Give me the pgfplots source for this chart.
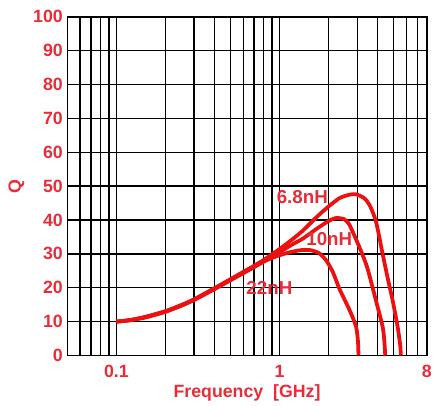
\documentclass[border=0pt]{standalone}
\usepackage{fontspec}
\setmainfont{Liberation Sans}
\usepackage{pgfplots}
\pgfplotsset{compat=1.18}

\definecolor{txtred}{RGB}{232,44,56}
\definecolor{curvered}{RGB}{236,16,16}

\begin{document}
\begin{tikzpicture}
\begin{axis}[
  scale only axis, width=363bp, height=342bp,
  xmode=log, xmin=0.05, xmax=8,
  ymin=0, ymax=100,
  xtick={0.1,1,8}, xticklabels={0.1,1,8},
  minor xtick={0.05,0.06,0.07,0.08,0.09,0.2,0.3,0.4,0.5,0.6,0.7,0.8,0.9,2,3,4,5,6,7},
  ytick={0,10,...,100},
  /pgf/number format/assume math mode=true,
  xmajorgrids, xminorgrids, ymajorgrids,
  grid style={black, line width=1.5bp},
  minor grid style={black, line width=1.5bp},
  axis line style={black, line width=1.5bp},
  major tick length=0pt, minor tick length=0pt,
  ticklabel style={font=\fontsize{18}{20}\selectfont\bfseries, text=txtred},
  xticklabel style={yshift=-6bp},
  yticklabel style={xshift=-1bp},
  xlabel={Frequency\ \ [GHz]},
  ylabel={Q},
  label style={font=\fontsize{18}{20}\selectfont\bfseries, text=txtred},
  xlabel style={yshift=0bp},
  ylabel style={yshift=2bp},
  clip=false,
]
% 6.8nH
\addplot[curvered, line width=3.8bp, smooth, tension=0.4] coordinates {(0.1,10)(0.12,10.4)(0.15,11.4)(0.2,13.1)(0.25,14.9)(0.3,16.6)(0.4,19.9)(0.5,22.5)(0.6,24.7)(0.7,26.5)(0.8,28.2)(0.9,29.9)(1,31.4)(1.2,34.3)(1.4,37)(1.7,41)(2,44)(2.34,46.5)(2.7,47.5)(2.95,47.6)(3.3,46.5)(3.56,44.5)(3.9,39.7)(4.29,30)(4.6,23)(4.94,16.3)(5.3,8.5)(5.5,3)(5.55,0)};
% 10nH
\addplot[curvered, line width=3.8bp, smooth, tension=0.4] coordinates {(0.1,10)(0.12,10.4)(0.15,11.3)(0.2,13)(0.25,14.8)(0.3,16.5)(0.4,19.8)(0.5,22.4)(0.6,24.5)(0.7,26.3)(0.8,28)(0.9,29.3)(1,30.5)(1.2,32.8)(1.4,34.6)(1.7,37.5)(2,39.7)(2.23,40.6)(2.5,40.2)(2.69,38.5)(3.09,32)(3.45,26)(3.9,16.3)(4.29,8.5)(4.4,4)(4.45,0)};
% 22nH
\addplot[curvered, line width=3.8bp, smooth, tension=0.4] coordinates {(0.1,10)(0.12,10.4)(0.15,11.2)(0.2,12.9)(0.25,14.7)(0.3,16.4)(0.4,19.6)(0.5,22.2)(0.6,24.3)(0.7,26.1)(0.8,27.7)(0.9,28.8)(1,29.6)(1.16,30.5)(1.35,31.1)(1.55,31.1)(1.75,30.2)(1.94,28)(2.13,24.5)(2.34,19.5)(2.69,13.4)(2.95,8.5)(3.03,4)(3.05,0)};
\node[text=txtred, font=\fontsize{19}{21}\selectfont\bfseries] at (axis cs:1.38,46.8) {6.8nH};
\node[text=txtred, font=\fontsize{19}{21}\selectfont\bfseries] at (axis cs:2.02,34.3) {10nH};
\node[text=txtred, font=\fontsize{19}{21}\selectfont\bfseries] at (axis cs:0.867,19.9) {22nH};
\coordinate (sw) at (rel axis cs:0,0);
\coordinate (ne) at (rel axis cs:1,1);
\end{axis}
\path ([shift={(-68bp,-51bp)}]sw) rectangle ([shift={(4bp,17bp)}]ne);
\end{tikzpicture}
\end{document}
